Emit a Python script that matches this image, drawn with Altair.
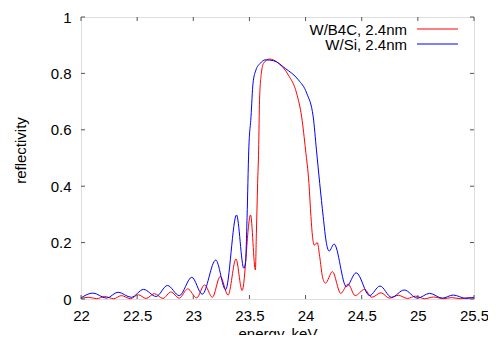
import altair as alt
import pandas as pd

# W/Si, 2.4nm (blue)
e_si = [22.0, 22.106, 22.227, 22.33, 22.448, 22.557, 22.669, 22.77, 22.875, 22.987,
        23.08, 23.2, 23.288, 23.385, 23.45, 23.465, 23.479, 23.494, 23.514, 23.532,
        23.558, 23.597, 23.64, 23.715, 23.818, 23.936, 24.01, 24.068, 24.097, 24.126,
        24.157, 24.186, 24.21, 24.254, 24.363, 24.451, 24.57, 24.663, 24.766, 24.879,
        24.996, 25.105, 25.217, 25.315, 25.43, 25.5]
r_si = [0.004, 0.021, 0.003, 0.024, 0.006, 0.034, 0.009, 0.048, 0.012, 0.077,
        0.017, 0.138, 0.033, 0.298, 0.109, 0.13, 0.29, 0.528, 0.646, 0.765,
        0.812, 0.836, 0.848, 0.845, 0.818, 0.777, 0.73, 0.646, 0.528, 0.41,
        0.292, 0.197, 0.17, 0.195, 0.044, 0.093, 0.012, 0.046, 0.006, 0.032,
        0.003, 0.02, 0.003, 0.014, 0.002, 0.006]

# W/B4C, 2.4nm (red)
e_b4c = [22.0, 22.07, 22.14, 22.21, 22.29, 22.36, 22.44, 22.51, 22.58, 22.654,
         22.73, 22.8, 22.875, 22.95, 23.03, 23.1, 23.17, 23.24, 23.31, 23.38,
         23.435, 23.51, 23.553, 23.562, 23.573, 23.582, 23.59, 23.606, 23.626, 23.677,
         23.76, 23.847, 23.92, 23.965, 24.0, 24.03, 24.048, 24.062, 24.077, 24.104,
         24.126, 24.15, 24.177, 24.239, 24.313, 24.378, 24.442, 24.525, 24.59, 24.672,
         24.746, 24.826, 24.908, 24.98, 25.06, 25.14, 25.23, 25.3, 25.38, 25.453, 25.5]
r_b4c = [0.002, 0.006, 0.001, 0.009, 0.001, 0.012, 0.001, 0.015, 0.002, 0.019,
         0.002, 0.025, 0.003, 0.036, 0.004, 0.05, 0.006, 0.08, 0.014, 0.142,
         0.03, 0.298, 0.103, 0.233, 0.41, 0.528, 0.705, 0.8, 0.836, 0.851,
         0.836, 0.794, 0.73, 0.646, 0.528, 0.41, 0.292, 0.221, 0.191, 0.2,
         0.15, 0.08, 0.056, 0.097, 0.02, 0.053, 0.012, 0.034, 0.006, 0.022,
         0.003, 0.013, 0.002, 0.01, 0.001, 0.007, 0.001, 0.005, 0.001, 0.005, 0.003]

x_ticks = [22, 22.5, 23, 23.5, 24, 24.5, 25, 25.5]
y_ticks = [0, 0.2, 0.4, 0.6, 0.8, 1.0]
series = ["W/B4C, 2.4nm", "W/Si, 2.4nm"]
colors = ["#ff0000", "#0000ff"]

W, H = 393, 282
FONT = "Liberation Sans"

df_b4c = pd.DataFrame({"energy": e_b4c, "refl": r_b4c})
df_si = pd.DataFrame({"energy": e_si, "refl": r_si})
df_xt = pd.DataFrame({"t": x_ticks})
df_yt = pd.DataFrame({"t": y_ticks})

xscale = alt.Scale(domain=[22, 25.5], nice=False, zero=False)
yscale = alt.Scale(domain=[0, 1], nice=False)

xaxis = alt.Axis(values=x_ticks, ticks=False, domain=False, grid=False, labelPadding=9,
                 format="~g", labelFlush=False, labelOverlap=False, labelBound=False,
                 labelFontSize=15, labelFont=FONT, labelColor="black",
                 title="energy, keV", titleFont=FONT, titleFontSize=15, titleFontWeight="normal",
                 titleColor="black", titlePadding=3)
yaxis = alt.Axis(values=y_ticks, ticks=False, domain=False, grid=False, labelPadding=10,
                 format="~g", labelFlush=False, labelOverlap=False,
                 labelFontSize=15, labelFont=FONT, labelColor="black",
                 title="reflectivity", titleFont=FONT, titleFontSize=15, titleFontWeight="normal",
                 titleColor="black", titleX=-53, titleY=133)

base_x = alt.X("energy:Q", scale=xscale, axis=xaxis)
base_y = alt.Y("refl:Q", scale=yscale, axis=yaxis)

red = alt.Chart(df_b4c).mark_line(color=colors[0], strokeWidth=1, interpolate="monotone").encode(
    x=base_x, y=base_y)
blue = alt.Chart(df_si).mark_line(color=colors[1], strokeWidth=1, interpolate="monotone").encode(
    x=alt.X("energy:Q", scale=xscale), y=alt.Y("refl:Q", scale=yscale))

tick_col = "#555555"
xt_bot = alt.Chart(df_xt).mark_rule(color=tick_col, strokeWidth=1).encode(
    x=alt.X("t:Q", scale=xscale), y=alt.value(H), y2=alt.value(H - 4))
xt_top = alt.Chart(df_xt).mark_rule(color=tick_col, strokeWidth=1).encode(
    x=alt.X("t:Q", scale=xscale), y=alt.value(0), y2=alt.value(4))
yt_left = alt.Chart(df_yt).mark_rule(color=tick_col, strokeWidth=1).encode(
    y=alt.Y("t:Q", scale=yscale), x=alt.value(0), x2=alt.value(4))
yt_right = alt.Chart(df_yt).mark_rule(color=tick_col, strokeWidth=1).encode(
    y=alt.Y("t:Q", scale=yscale), x=alt.value(W), x2=alt.value(W - 4))

df_leg = pd.DataFrame({"series": series, "color": colors})
leg_layers = []
for i, (s, c) in enumerate(zip(series, colors)):
    d = df_leg[df_leg["series"] == s]
    leg_layers.append(alt.Chart(d).mark_text(align="right", baseline="alphabetic", font=FONT,
                                             fontSize=15, color="black").encode(
        text="series:N", x=alt.value(326), y=alt.value(18 + 15 * i)))
    leg_layers.append(alt.Chart(d).mark_rule(color=c, strokeWidth=1).encode(
        x=alt.value(336), x2=alt.value(377), y=alt.value(12 + 15 * i)))

chart = alt.layer(red, blue, xt_bot, xt_top, yt_left, yt_right, *leg_layers).properties(
    width=W, height=H,
    autosize=alt.AutoSizeParams(type="none"),
    padding={"left": 73, "top": 9, "right": 14, "bottom": 36},
).configure_view(stroke="black", strokeWidth=1).configure(background="white")

chart.save("out.html", embed_options={"renderer": "svg", "actions": False})
